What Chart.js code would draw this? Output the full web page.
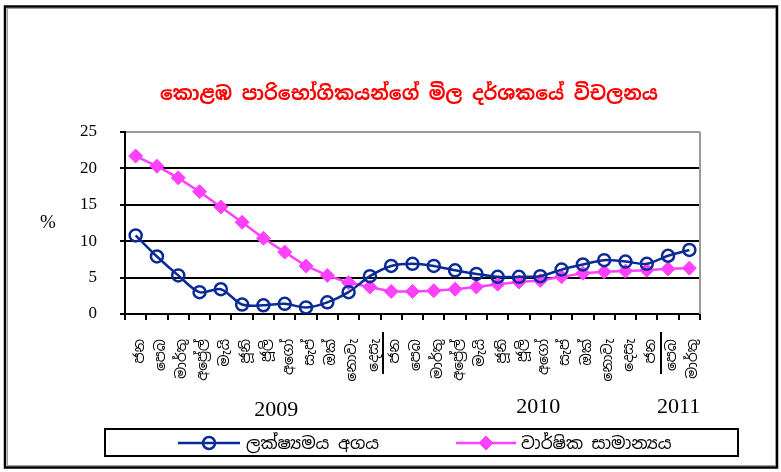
<!DOCTYPE html>
<html>
<head>
<meta charset="utf-8">
<script src="https://cdn.jsdelivr.net/npm/chart.js@4.4.1/dist/chart.umd.min.js"></script>
<style>
  html,body{margin:0;padding:0;background:#fff;}
  #wrap{width:781px;height:472px;position:relative;}
</style>
</head>
<body>
<div id="wrap"><canvas id="c" width="781" height="472"></canvas></div>
<script>
// ---- data ----
const categories = [
  'ජන','පෙබ','මාර්තු','අප්‍රේල්','මැයි','ජූනි','ජූලි','අගෝ','සැප්','ඔක්','නොවැ','දෙසැ',
  'ජන','පෙබ','මාර්තු','අප්‍රේල්','මැයි','ජූනි','ජූලි','අගෝ','සැප්','ඔක්','නොවැ','දෙසැ',
  'ජන','පෙබ','මාර්තු'
];
const pointToPoint = [10.8, 7.9, 5.3, 3.0, 3.4, 1.3, 1.2, 1.4, 0.9, 1.6, 3.0, 5.2,
                      6.6, 6.9, 6.6, 6.0, 5.5, 5.1, 5.1, 5.2, 6.1, 6.8, 7.4, 7.2,
                      6.9, 8.0, 8.8];
const annualAverage = [21.7, 20.3, 18.7, 16.8, 14.7, 12.6, 10.4, 8.5, 6.6, 5.3, 4.3, 3.7,
                       3.1, 3.1, 3.2, 3.4, 3.7, 4.1, 4.4, 4.6, 5.1, 5.6, 5.8, 5.9,
                       6.0, 6.2, 6.3];
const seriesNames = ['ලක්ෂ්‍යමය අගය', 'වාර්ෂික සාමාන්‍යය'];
const yearLabels = ['2009', '2010', '2011'];
const yearLabelIndex = [6.6, 18.9, 25.5];
const yearSeparatorIndex = [11.63, 24.66];
const yTicks = [0, 5, 10, 15, 20, 25];
const titleText = 'කොළඹ පාරිභෝගිකයන්ගේ මිල දර්ශකයේ විචලනය';
const yAxisLabel = '%';

const SIN = "'Noto Sans Sinhala','Iskoola Pota','Noto Sans','DejaVu Sans',sans-serif";
const SERIF = "'Liberation Serif','Times New Roman',serif";
const BLUE = '#0a2a96';
const PINK = '#ff40ff';

const decor = {
  id: 'decor',
  afterDraw(chart) {
    const ctx = chart.ctx;
    const ca = chart.chartArea;
    const xs = chart.scales.x;
    ctx.save();
    // plot right border (gray)
    ctx.strokeStyle = '#9a9a9a';
    ctx.lineWidth = 2;
    ctx.beginPath();
    ctx.moveTo(ca.right, ca.top);
    ctx.lineTo(ca.right, ca.bottom);
    ctx.stroke();
    // title
    ctx.fillStyle = '#ff0000';
    ctx.font = 'bold 19px ' + SIN;
    ctx.textAlign = 'center';
    ctx.textBaseline = 'middle';
    ctx.fillText(titleText, 409, 95);
    // y axis label
    ctx.fillStyle = '#000';
    ctx.font = '19px ' + SERIF;
    ctx.fillText(yAxisLabel, 48, 223);
    // year labels
    ctx.font = '22px ' + SERIF;
    const yy = [410, 407, 407];
    yearLabels.forEach((t, i) => {
      ctx.fillText(t, xs.getPixelForValue(yearLabelIndex[i]), yy[i]);
    });
    // year separators
    ctx.strokeStyle = '#000';
    ctx.lineWidth = 2;
    yearSeparatorIndex.forEach(v => {
      const x = Math.round(xs.getPixelForValue(v));
      ctx.beginPath();
      ctx.moveTo(x, 332);
      ctx.lineTo(x, 374);
      ctx.stroke();
    });
    // legend box
    ctx.lineWidth = 2;
    ctx.strokeStyle = '#000';
    ctx.strokeRect(105, 429, 633, 27);
    const ly = 443;
    const items = [
      {ds: chart.data.datasets[0], x0: 178, x1: 240, px: 209, tx: 246},
      {ds: chart.data.datasets[1], x0: 456, x1: 516, px: 486, tx: 521}
    ];
    items.forEach(it => {
      ctx.strokeStyle = it.ds.borderColor;
      ctx.lineWidth = 2.5;
      ctx.beginPath();
      ctx.moveTo(it.x0, ly);
      ctx.lineTo(it.x1, ly);
      ctx.stroke();
      ctx.fillStyle = it.ds.pointBackgroundColor;
      ctx.strokeStyle = it.ds.pointBorderColor;
      ctx.lineWidth = it.ds.pointBorderWidth;
      Chart.helpers.drawPoint(ctx, {pointStyle: it.ds.pointStyle, radius: it.ds.pointRadius, borderWidth: it.ds.pointBorderWidth, rotation: 0}, it.px, ly);
      ctx.fillStyle = '#000';
      ctx.font = '17px ' + SIN;
      ctx.textAlign = 'left';
      ctx.textBaseline = 'middle';
      ctx.fillText(it.ds.label, it.tx, ly + 1);
    });
    // outer frame
    ctx.strokeStyle = '#000';
    ctx.lineWidth = 2.5;
    ctx.strokeRect(5, 6.5, 772, 461);
    ctx.strokeStyle = '#a0a0a0';
    ctx.lineWidth = 1;
    ctx.strokeRect(7.5, 8.5, 768, 457);
    ctx.restore();
  }
};

new Chart(document.getElementById('c'), {
  type: 'line',
  data: {
    labels: categories,
    datasets: [
      {
        label: seriesNames[0],
        data: pointToPoint,
        borderColor: BLUE,
        borderWidth: 2.5,
        tension: 0.3,
        pointStyle: 'circle',
        pointRadius: 6,
        pointBorderWidth: 2.5,
        pointBorderColor: BLUE,
        pointBackgroundColor: 'rgba(255,255,255,0)',
        fill: false
      },
      {
        label: seriesNames[1],
        data: annualAverage,
        borderColor: PINK,
        borderWidth: 2.5,
        tension: 0,
        pointStyle: 'rectRot',
        pointRadius: 7,
        pointBorderWidth: 1,
        pointBorderColor: PINK,
        pointBackgroundColor: PINK,
        fill: false
      }
    ]
  },
  options: {
    responsive: false,
    animation: false,
    devicePixelRatio: 1,
    layout: { padding: { left: 0, right: 81, top: 132, bottom: 0 } },
    plugins: {
      legend: { display: false },
      title: { display: false },
      tooltip: { enabled: false }
    },
    scales: {
      x: {
        type: 'category',
        offset: true,
        grid: {
          display: true,
          drawOnChartArea: false,
          drawTicks: true,
          tickLength: 6,
          offset: true,
          color: '#000',
          lineWidth: 2
        },
        border: { display: true, color: '#000', width: 2 },
        ticks: {
          autoSkip: false,
          minRotation: 90,
          maxRotation: 90,
          padding: 19,
          labelOffset: 4,
          color: '#000',
          font: { family: SIN, size: 14 }
        },
        afterFit(scale) { scale.height = 158; }
      },
      y: {
        min: 0,
        max: 25,
        afterBuildTicks(scale) { scale.ticks = yTicks.map(v => ({ value: v })); },
        grid: {
          color: ctx => (ctx.tick && ctx.tick.value === 25) ? '#9a9a9a' : '#000',
          lineWidth: 2,
          drawTicks: true,
          tickLength: 5,
          tickColor: '#000'
        },
        border: { display: true, color: '#000', width: 2 },
        ticks: {
          color: '#000',
          padding: 23,
          font: { family: SERIF, size: 17 }
        },
        afterFit(scale) { scale.width = 125; }
      }
    }
  },
  plugins: [decor]
});
</script>
</body>
</html>
